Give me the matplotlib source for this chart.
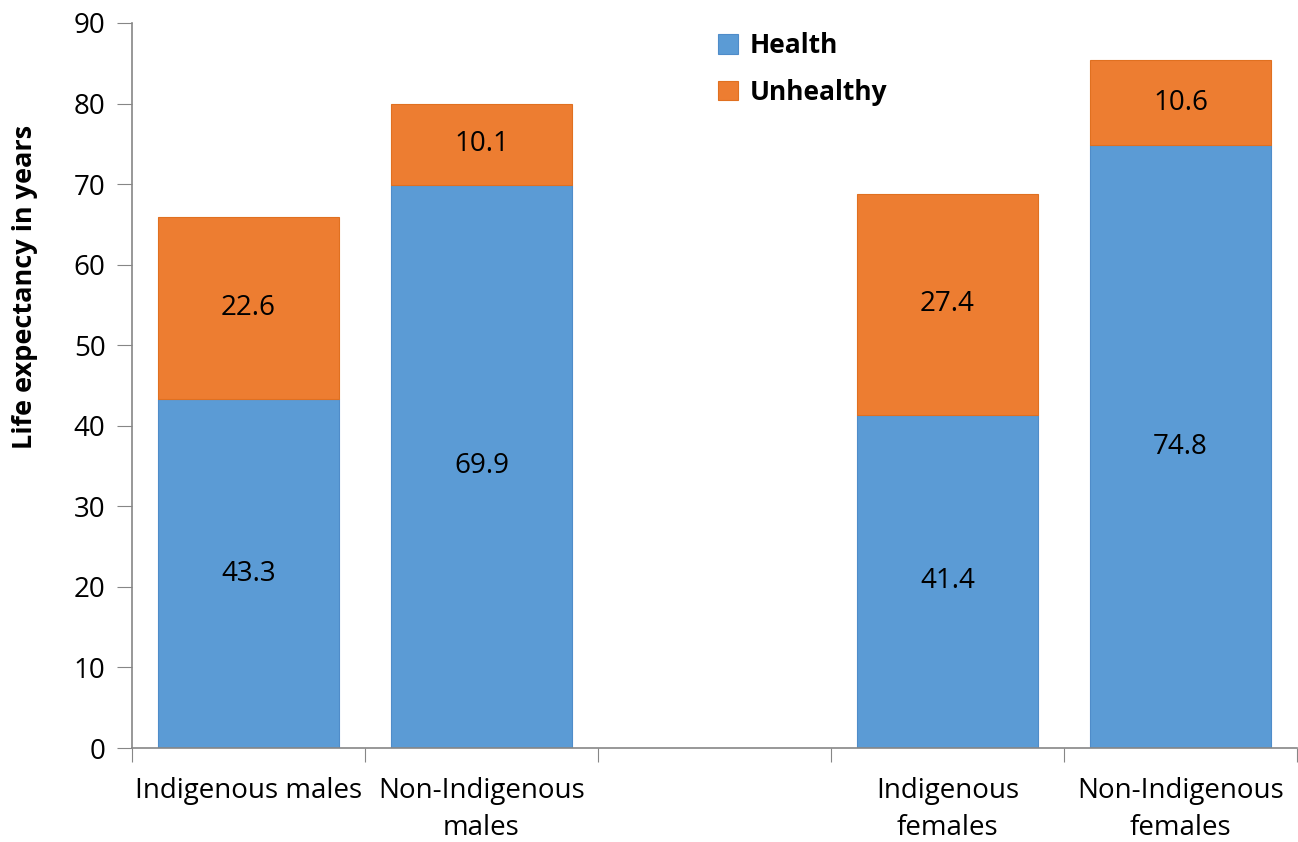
import matplotlib
matplotlib.use("Agg")
import matplotlib.pyplot as plt

# data
categories = ["Indigenous males", "Non-Indigenous\nmales", "",
              "Indigenous\nfemales", "Non-Indigenous\nfemales"]
healthy = [43.3, 69.9, None, 41.4, 74.8]
unhealthy = [22.6, 10.1, None, 27.4, 10.6]

blue = "#5B9BD5"
orange = "#ED7D31"
grey = "#868686"

plt.rcParams['font.family'] = ['Open Sans', 'DejaVu Sans']

fig = plt.figure(figsize=(12.98, 8.42), dpi=100)
ax = fig.add_axes([0.1017, 0.1116, 0.8975, 0.8611])

pos = [i for i, v in enumerate(healthy) if v is not None]
h = [healthy[i] for i in pos]
u = [unhealthy[i] for i in pos]

ax.bar(pos, h, width=0.78, color=blue, edgecolor="#4F8CC9", linewidth=0.8,
       label="Health")
ax.bar(pos, u, width=0.78, bottom=h, color=orange, edgecolor="#E07020",
       linewidth=0.8, label="Unhealthy")

# value labels in middle of each segment
for x, a, b in zip(pos, h, u):
    ax.text(x, a / 2, f"{a}", ha="center", va="center", fontsize=20)
    ax.text(x, a + b / 2, f"{b}", ha="center", va="center", fontsize=20)

ax.set_xlim(-0.5, 4.5)
ax.set_ylim(0, 90)
ax.set_yticks(range(0, 91, 10))
ax.tick_params(axis="y", labelsize=20, length=11, color=grey, pad=8)

# category boundaries as major ticks, labels on minor ticks
ax.set_xticks([i - 0.5 for i in range(6)])
ax.set_xticklabels([])
ax.set_xticks(range(5), minor=True)
ax.set_xticklabels(categories, minor=True, fontsize=20, linespacing=1.4)
ax.tick_params(axis="x", which="major", length=10, color=grey)
ax.tick_params(axis="x", which="minor", length=0, pad=21)

for s in ["top", "right"]:
    ax.spines[s].set_visible(False)
for s in ["left", "bottom"]:
    ax.spines[s].set_color(grey)
    ax.spines[s].set_linewidth(1.2)

# the label sits above the axis middle in the original
ax.set_ylabel("Life expectancy in years", fontsize=19.5, fontweight="bold")
ax.yaxis.set_label_coords(-0.081, 0.636)

ax.legend(loc="upper left", bbox_to_anchor=(0.483, 1.02), frameon=False,
          prop={"size": 19, "weight": "bold"}, handlelength=0.75,
          handleheight=0.75, labelspacing=0.75, handletextpad=0.45)

fig.savefig("out.png", dpi=100)
